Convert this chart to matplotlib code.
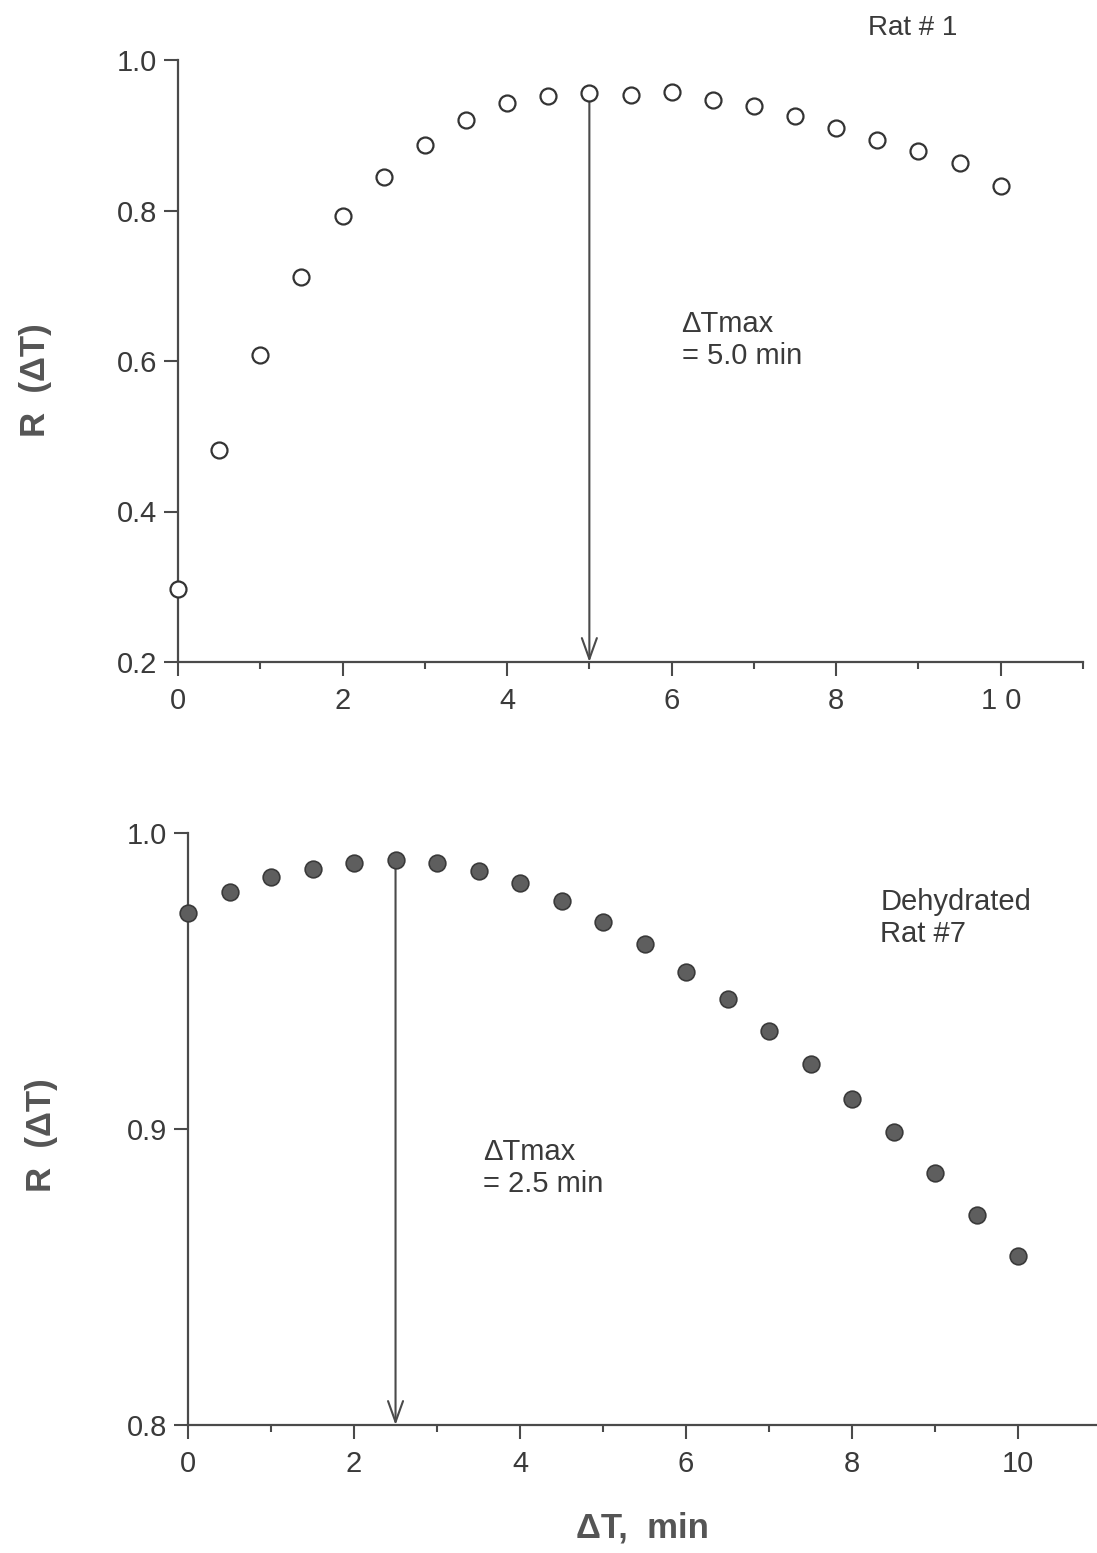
import matplotlib
matplotlib.use("Agg")
import matplotlib.pyplot as plt
from matplotlib.ticker import MultipleLocator

plt.rcParams['font.family'] = ['Liberation Sans', 'DejaVu Sans']

# ---- data ----
dt = [0, 0.5, 1, 1.5, 2, 2.5, 3, 3.5, 4, 4.5, 5, 5.5, 6, 6.5, 7, 7.5, 8, 8.5, 9, 9.5, 10]
r_rat1 = [0.297, 0.482, 0.608, 0.712, 0.793, 0.845, 0.887, 0.920, 0.943, 0.952, 0.956,
          0.953, 0.957, 0.947, 0.939, 0.926, 0.910, 0.894, 0.879, 0.863, 0.833]
r_rat7 = [0.973, 0.980, 0.985, 0.988, 0.990, 0.991, 0.990, 0.987, 0.983, 0.977, 0.970,
          0.9625, 0.953, 0.944, 0.933, 0.922, 0.910, 0.899, 0.885, 0.871, 0.857]
dtmax_rat1 = 5.0
dtmax_rat7 = 2.5
top_xticks = [0, 2, 4, 6, 8, 10]
top_xticklabels = ['0', '2', '4', '6', '8', '1 0']
top_yticks = [0.2, 0.4, 0.6, 0.8, 1.0]
bot_xticks = [0, 2, 4, 6, 8, 10]
bot_xticklabels = ['0', '2', '4', '6', '8', '10']
bot_yticks = [0.8, 0.9, 1.0]

axis_col = '#4a4a4a'
text_col = '#3a3a3a'

fig = plt.figure(figsize=(10.97, 15.53), dpi=100)
W, H = 1097, 1553

def add_axes(l, r, t, b):
    return fig.add_axes([l / W, 1 - b / H, (r - l) / W, (b - t) / H])

def style(ax):
    for s in ['top', 'right']:
        ax.spines[s].set_visible(False)
    for s in ['left', 'bottom']:
        ax.spines[s].set_color(axis_col)
        ax.spines[s].set_linewidth(1.6)
    ax.tick_params(axis='both', which='both', colors=axis_col, labelcolor=text_col,
                   labelsize=21, width=1.5)
    ax.tick_params(axis='y', which='major', length=10, pad=5)
    ax.tick_params(axis='x', which='major', length=10, pad=8)
    ax.tick_params(axis='x', which='minor', length=5)
    ax.xaxis.set_minor_locator(MultipleLocator(1))
    ax.set_facecolor('none')

# ---- top panel ----
ax1 = add_axes(178, 1083, 60, 662)
style(ax1)
ax1.set_xlim(0, 11)
ax1.set_ylim(0.2, 1.0)
ax1.set_xticks(top_xticks)
ax1.set_xticklabels(top_xticklabels)
ax1.set_yticks(top_yticks)
ax1.set_yticklabels([f'{v:.1f}' for v in top_yticks])
i1 = dt.index(dtmax_rat1)
ax1.annotate('', xy=(dtmax_rat1, 0.2), xytext=(dtmax_rat1, r_rat1[i1]),
             arrowprops=dict(arrowstyle='->,head_length=0.75,head_width=0.27',
                             color=axis_col, lw=1.5, shrinkA=0, shrinkB=0,
                             mutation_scale=20), zorder=2)
ax1.plot(dt, r_rat1, linestyle='none', marker='o', markersize=11.5,
         markerfacecolor='white', markeredgecolor='#333333', markeredgewidth=1.6,
         clip_on=False, zorder=3)
ax1.set_ylabel('R  (ΔT)', fontsize=25, fontweight='bold', color='#555555')
ax1.yaxis.label.set_va('center')
ax1.yaxis.set_label_coords(-0.158, 0.468)
ax1.text(8.39, 1.0425, 'Rat # 1', fontsize=20, color=text_col, ha='left', va='center',
         clip_on=False)
ax1.text(6.12, 0.628, 'ΔTmax\n= 5.0 min', fontsize=21, color=text_col, ha='left',
         va='center', linespacing=1.15)

# ---- bottom panel ----
ax2 = add_axes(188, 1097, 833, 1425)
style(ax2)
ax2.set_xlim(0, 10.95)
ax2.set_ylim(0.8, 1.0)
ax2.set_xticks(bot_xticks)
ax2.set_xticklabels(bot_xticklabels)
ax2.set_yticks(bot_yticks)
ax2.set_yticklabels([f'{v:.1f}' for v in bot_yticks])
i2 = dt.index(dtmax_rat7)
ax2.annotate('', xy=(dtmax_rat7, 0.8), xytext=(dtmax_rat7, r_rat7[i2]),
             arrowprops=dict(arrowstyle='->,head_length=0.75,head_width=0.27',
                             color=axis_col, lw=1.5, shrinkA=0, shrinkB=0,
                             mutation_scale=20), zorder=2)
ax2.plot(dt, r_rat7, linestyle='none', marker='o', markersize=12,
         markerfacecolor='#5e5e5e', markeredgecolor='#3a3a3a', markeredgewidth=1.2,
         clip_on=False, zorder=3)
ax2.set_ylabel('R  (ΔT)', fontsize=25, fontweight='bold', color='#555555')
ax2.yaxis.label.set_va('center')
ax2.yaxis.set_label_coords(-0.161, 0.49)
ax2.set_xlabel('ΔT,  min', fontsize=25, fontweight='bold', color='#555555', labelpad=24)
ax2.text(8.34, 0.9713, 'Dehydrated\nRat #7', fontsize=21, color=text_col, ha='left',
         va='center', linespacing=1.15)
ax2.text(3.55, 0.8868, 'ΔTmax\n= 2.5 min', fontsize=21, color=text_col, ha='left',
         va='center', linespacing=1.15)

fig.savefig('out.png', dpi=100, facecolor='white')
